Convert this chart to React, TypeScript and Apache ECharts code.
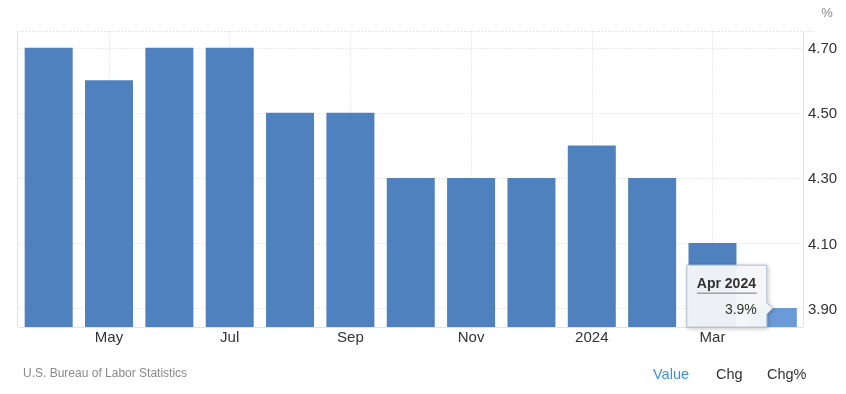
import React, { useEffect, useRef } from 'react';
import * as echarts from 'echarts';

// ---- data ----
const categories = [
  'Apr 2023', 'May 2023', 'Jun 2023', 'Jul 2023', 'Aug 2023', 'Sep 2023', 'Oct 2023',
  'Nov 2023', 'Dec 2023', 'Jan 2024', 'Feb 2024', 'Mar 2024', 'Apr 2024',
];
const xTickLabels = ['', 'May', '', 'Jul', '', 'Sep', '', 'Nov', '', '2024', '', 'Mar', ''];
const values = [4.7, 4.6, 4.7, 4.7, 4.5, 4.5, 4.3, 4.3, 4.3, 4.4, 4.3, 4.1, 3.9];
const yTickValues = [3.9, 4.1, 4.3, 4.5, 4.7];
const yAxisMin = 3.842;
const yAxisMax = 4.75;
const unitLabel = '%';
const sourceLabel = 'U.S. Bureau of Labor Statistics';
const tabLabels = ['Value', 'Chg', 'Chg%'];
const highlightedIndex = 12;

// ---- styling ----
const FONT = '"Liberation Sans", Arial, Helvetica, sans-serif';
const BAR = '#4e81bd';
const BAR_HOVER = '#6a9bd8';
const GRID_LINE = '#d6d6d6';
const AXIS_LINE = '#e3e3e3';
const TEXT = '#333333';

const gridLeft = 18.5;
const gridRight = 43;
const gridTop = 31.5;
const gridBottom = 67;

// half-band helper axis: the left edge of half-band (2i+1) is the centre of category i
const halfBands = categories.flatMap((c) => [c + ' a', c + ' b']);
const gridHalfIdx = new Set(
  xTickLabels.map((l, i) => (l !== '' ? 2 * i + 1 : -1)).filter((k) => k >= 0)
);

export default function App() {
  const ref = useRef<HTMLDivElement>(null);

  useEffect(() => {
    const el = ref.current!;
    const chart = echarts.init(el, null, { renderer: 'svg' });
    const W = 846;
    const H = 394;

    chart.setOption({
      animation: false,
      textStyle: { fontFamily: FONT },
      grid: { left: gridLeft, right: gridRight, top: gridTop, bottom: gridBottom },
      xAxis: [
        {
          type: 'category',
          data: categories,
          boundaryGap: true,
          axisLine: { show: true, lineStyle: { color: AXIS_LINE, width: 1 } },
          axisTick: { show: false },
          splitLine: { show: false },
          axisLabel: {
            interval: (i: number) => xTickLabels[i] !== '',
            formatter: (_v: string, i: number) => xTickLabels[i],
            color: TEXT,
            fontSize: 15,
            margin: 2,
            fontFamily: FONT,
          },
        },
        {
          type: 'category',
          data: halfBands,
          boundaryGap: true,
          position: 'bottom',
          axisLine: { show: false },
          axisTick: { show: false },
          axisLabel: { show: false },
          splitLine: {
            show: true,
            interval: (i: number) => gridHalfIdx.has(i),
            lineStyle: { color: GRID_LINE, type: [1, 2], width: 1 },
          },
        },
      ],
      yAxis: {
        type: 'value',
        position: 'right',
        min: yAxisMin,
        max: yAxisMax,
        axisLine: { show: true, lineStyle: { color: AXIS_LINE, width: 1 } },
        axisTick: { show: false, customValues: yTickValues },
        axisLabel: {
          customValues: yTickValues,
          formatter: (v: number) => v.toFixed(2),
          color: TEXT,
          fontSize: 15,
          margin: 5,
          fontFamily: FONT,
        },
        splitLine: { show: true, lineStyle: { color: GRID_LINE, type: [1, 2], width: 1 } },
      },
      series: [
        {
          type: 'bar',
          xAxisIndex: 0,
          yAxisIndex: 0,
          barWidth: 48,
          itemStyle: { color: BAR },
          data: values.map((v, i) =>
            i === highlightedIndex ? { value: v, itemStyle: { color: BAR_HOVER } } : v
          ),
        },
      ],
    });

    const pt = chart.convertToPixel({ seriesIndex: 0 }, [
      highlightedIndex,
      values[highlightedIndex],
    ]) as number[];
    const tipX = pt[0];
    const tipY = pt[1];
    const bx0 = tipX - 86;
    const bx1 = tipX - 6;
    const by0 = tipY - 43;
    const by1 = tipY + 19;

    const plotRight = W - gridRight;
    const plotBottom = H - gridBottom;

    chart.setOption({
      graphic: [
        {
          type: 'line',
          z: 1,
          shape: { x1: 17.5, y1: gridTop, x2: 17.5, y2: plotBottom },
          style: { stroke: AXIS_LINE, lineWidth: 1 },
        },
        {
          type: 'line',
          z: 1,
          shape: { x1: 17, y1: gridTop, x2: plotRight + 10, y2: gridTop },
          style: { stroke: GRID_LINE, lineWidth: 1, lineDash: [1, 2] },
        },
        {
          type: 'text',
          x: 827,
          y: 12,
          style: {
            text: unitLabel,
            fill: '#888888',
            font: `13px ${FONT}`,
            align: 'center',
            verticalAlign: 'middle',
          },
        },
        {
          type: 'text',
          x: 23,
          y: 373,
          style: {
            text: sourceLabel,
            fill: '#8a8a8a',
            font: `12px ${FONT}`,
            align: 'left',
            verticalAlign: 'middle',
          },
        },
        {
          type: 'text',
          x: 653,
          y: 374,
          style: {
            text: tabLabels[0],
            fill: '#3d8fe3',
            font: `14.5px ${FONT}`,
            align: 'left',
            verticalAlign: 'middle',
          },
        },
        {
          type: 'text',
          x: 716,
          y: 374,
          style: {
            text: tabLabels[1],
            fill: TEXT,
            font: `14.5px ${FONT}`,
            align: 'left',
            verticalAlign: 'middle',
          },
        },
        {
          type: 'text',
          x: 767,
          y: 374,
          style: {
            text: tabLabels[2],
            fill: TEXT,
            font: `14.5px ${FONT}`,
            align: 'left',
            verticalAlign: 'middle',
          },
        },
        // tooltip
        {
          type: 'polygon',
          z: 100,
          shape: {
            points: [
              [bx0, by0],
              [bx1, by0],
              [bx1, tipY - 5],
              [tipX, tipY],
              [bx1, tipY + 6],
              [bx1, by1],
              [bx0, by1],
            ],
          },
          style: {
            fill: 'rgba(247,248,250,0.94)',
            stroke: '#a9bccf',
            lineWidth: 1,
            shadowBlur: 4,
            shadowColor: 'rgba(0,0,0,0.25)',
            shadowOffsetX: 1,
            shadowOffsetY: 1,
          },
        },
        {
          type: 'text',
          z: 101,
          x: bx0 + 10,
          y: tipY - 25,
          style: {
            text: categories[highlightedIndex],
            fill: TEXT,
            font: `bold 14px ${FONT}`,
            align: 'left',
            verticalAlign: 'middle',
          },
        },
        {
          type: 'line',
          z: 101,
          shape: { x1: bx0 + 10, y1: tipY - 15, x2: tipX - 16, y2: tipY - 15 },
          style: { stroke: '#777777', lineWidth: 1 },
        },
        {
          type: 'text',
          z: 101,
          x: tipX - 16,
          y: tipY + 1,
          style: {
            text: `${values[highlightedIndex]}${unitLabel}`,
            fill: TEXT,
            font: `14px ${FONT}`,
            align: 'right',
            verticalAlign: 'middle',
          },
        },
      ],
    });

    return () => chart.dispose();
  }, []);

  return (
    <div
      ref={ref}
      style={{ position: 'fixed', left: 0, top: 0, width: 846, height: 394 }}
    />
  );
}
